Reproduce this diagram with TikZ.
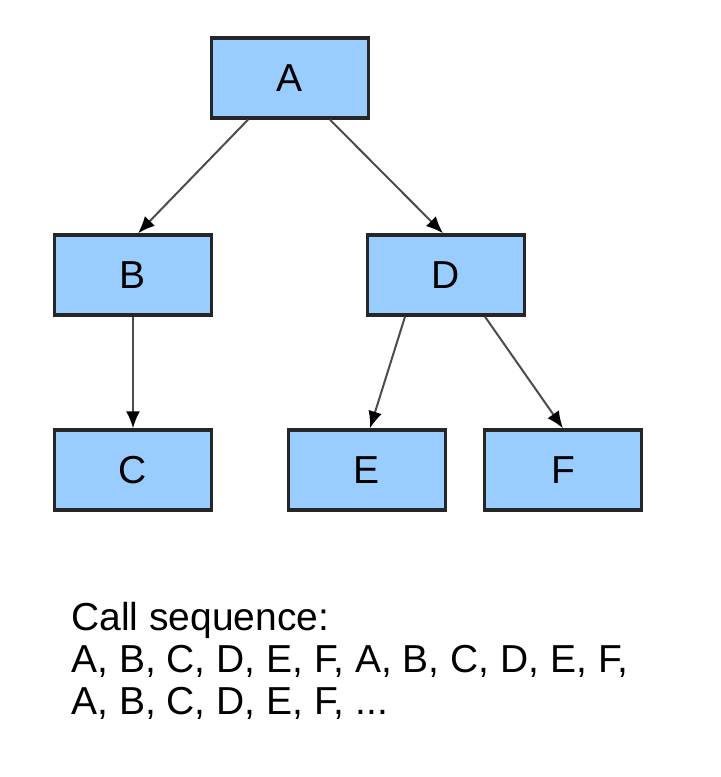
\documentclass[tikz,border=0pt]{standalone}
\usepackage{fontspec}
\setmainfont{Liberation Sans}
\usetikzlibrary{arrows.meta}

\begin{document}
\begin{tikzpicture}[
  x=0.5pt, y=-0.5pt,
  font=\fontsize{19.5}{21}\selectfont,
  box/.style={draw=black!85, line width=1.7pt, fill=boxblue, minimum width=78.5pt, minimum height=40pt, inner sep=0pt},
  arrow/.style={draw=black!70, line width=1pt, -{Latex[length=8.5pt,width=7pt,color=black]}}
]
\definecolor{boxblue}{HTML}{99CCFF}
\useasboundingbox (0,0) rectangle (720,777);
% Tree
\node[box] (A) at (290,78) {A};
\node[box] (B) at (133,275) {B};
\node[box] (D) at (446,275) {D};
\node[box] (C) at (133,470) {C};
\node[box] (E) at (367,470) {E};
\node[box] (F) at (563,470) {F};
\draw[arrow] ([xshift=-21pt]A.south) -- ([xshift=2.5pt]B.north);
\draw[arrow] ([xshift=20pt]A.south) -- ([xshift=-1.5pt]D.north);
\draw[arrow] (B) -- (C);
\draw[arrow] ([xshift=-20.5pt]D.south) -- ([xshift=1.5pt]E.north);
\draw[arrow] ([xshift=19.5pt]D.south) -- (F.north);
% Call sequence
\node[anchor=north west, inner sep=0pt, align=left] (seq) at (71,602) {Call sequence:\\A, B, C, D, E, F, A, B, C, D, E, F,\\A, B, C, D, E, F, ...};
\end{tikzpicture}
\end{document}
